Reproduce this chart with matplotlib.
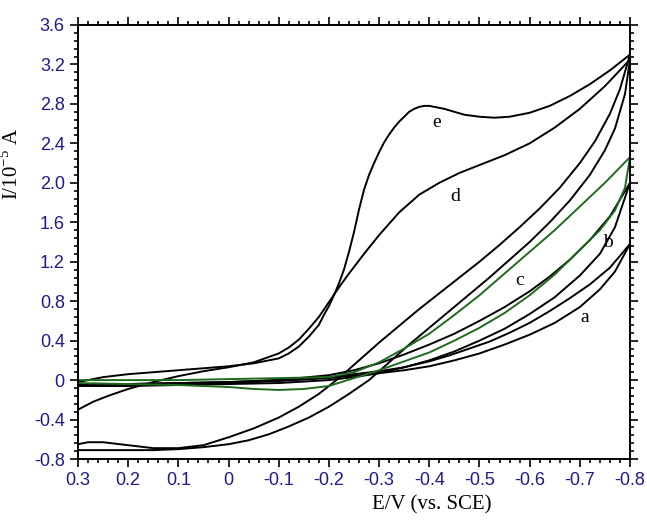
import matplotlib
matplotlib.use('Agg')
import matplotlib.pyplot as plt
from matplotlib.ticker import MultipleLocator

# curve e (black)
e_fwd_E = [0.30, 0.25, 0.20, 0.15, 0.10, 0.05, 0.00, -0.05, -0.10, -0.12, -0.14, -0.16, -0.18, -0.19, -0.20,
           -0.21, -0.22, -0.23, -0.24, -0.25, -0.26, -0.27, -0.28, -0.29, -0.30, -0.31, -0.32, -0.33, -0.34,
           -0.35, -0.36, -0.37, -0.38, -0.39, -0.40, -0.41, -0.43, -0.45, -0.47, -0.50, -0.53, -0.56, -0.60,
           -0.64, -0.68, -0.72, -0.76, -0.80]
e_fwd_I = [-0.02, 0.03, 0.06, 0.08, 0.10, 0.12, 0.14, 0.17, 0.22, 0.27, 0.34, 0.44, 0.56, 0.66, 0.75,
           0.86, 0.98, 1.12, 1.30, 1.50, 1.73, 1.93, 2.08, 2.20, 2.31, 2.41, 2.49, 2.56, 2.62,
           2.67, 2.72, 2.75, 2.77, 2.78, 2.78, 2.77, 2.75, 2.72, 2.69, 2.67, 2.66, 2.67, 2.71,
           2.78, 2.88, 3.00, 3.14, 3.30]
e_rev_E = [-0.80, -0.78, -0.76, -0.73, -0.70, -0.66, -0.62, -0.58, -0.54, -0.50, -0.46, -0.42, -0.38, -0.34,
           -0.30, -0.26, -0.22, -0.18, -0.14, -0.10, -0.05, 0.00, 0.05, 0.10, 0.15, 0.20, 0.25, 0.28, 0.30]
e_rev_I = [3.30, 2.95, 2.70, 2.42, 2.20, 1.95, 1.74, 1.55, 1.37, 1.20, 1.04, 0.88, 0.72, 0.55,
           0.38, 0.20, 0.02, -0.14, -0.27, -0.38, -0.49, -0.58, -0.66, -0.69, -0.69, -0.66, -0.63, -0.63, -0.65]

# curve d (black)
d_fwd_E = [0.30, 0.27, 0.24, 0.20, 0.15, 0.10, 0.05, 0.00, -0.05, -0.10, -0.12, -0.14, -0.16, -0.18, -0.20,
           -0.22, -0.24, -0.27, -0.30, -0.34, -0.38, -0.42, -0.46, -0.50, -0.55, -0.60, -0.65, -0.70, -0.75,
           -0.80]
d_fwd_I = [-0.30, -0.22, -0.16, -0.09, -0.02, 0.04, 0.09, 0.13, 0.18, 0.27, 0.33, 0.41, 0.52, 0.64, 0.79,
           0.94, 1.08, 1.28, 1.47, 1.70, 1.88, 2.00, 2.10, 2.18, 2.28, 2.40, 2.56, 2.75, 2.98,
           3.25]
d_rev_E = [-0.80, -0.79, -0.77, -0.75, -0.72, -0.68, -0.64, -0.60, -0.56, -0.52, -0.48, -0.44, -0.40, -0.36,
           -0.32, -0.28, -0.24, -0.20, -0.16, -0.12, -0.08, -0.04, 0.00, 0.05, 0.10, 0.15, 0.20, 0.25, 0.30]
d_rev_I = [3.25, 2.90, 2.55, 2.33, 2.08, 1.82, 1.60, 1.40, 1.22, 1.04, 0.87, 0.70, 0.53, 0.36,
           0.18, 0.00, -0.14, -0.27, -0.38, -0.47, -0.55, -0.61, -0.65, -0.68, -0.70, -0.71, -0.71, -0.71, -0.71]

# curve c (green)
c_fwd_E = [0.30, 0.20, 0.10, 0.00, -0.05, -0.10, -0.15, -0.20, -0.25, -0.30, -0.35, -0.40, -0.45, -0.50,
           -0.55, -0.60, -0.65, -0.70, -0.74, -0.77, -0.79, -0.80]
c_fwd_I = [-0.03, -0.04, -0.05, -0.07, -0.09, -0.10, -0.09, -0.06, 0.02, 0.10, 0.19, 0.28, 0.40, 0.53,
           0.68, 0.86, 1.07, 1.32, 1.52, 1.72, 1.95, 2.26]
c_rev_E = [-0.80, -0.75, -0.70, -0.65, -0.60, -0.55, -0.50, -0.45, -0.40, -0.35, -0.30, -0.25, -0.20, -0.10,
           0.00, 0.10, 0.20, 0.30]
c_rev_I = [2.26, 2.00, 1.76, 1.52, 1.30, 1.08, 0.86, 0.66, 0.47, 0.32, 0.18, 0.08, 0.03, 0.02,
           0.01, 0.00, 0.00, 0.00]

# curve b (black)
b_fwd_E = [0.30, 0.20, 0.10, 0.00, -0.10, -0.20, -0.25, -0.30, -0.35, -0.40, -0.45, -0.50, -0.55, -0.60,
           -0.65, -0.70, -0.74, -0.77, -0.80]
b_fwd_I = [-0.06, -0.06, -0.05, -0.04, -0.03, 0.00, 0.03, 0.07, 0.13, 0.20, 0.29, 0.40, 0.52, 0.67,
           0.84, 1.06, 1.28, 1.55, 2.00]
b_rev_E = [-0.80, -0.76, -0.72, -0.68, -0.64, -0.60, -0.55, -0.50, -0.45, -0.40, -0.35, -0.30, -0.25, -0.20,
           -0.10, 0.00, 0.10, 0.20, 0.30]
b_rev_I = [2.00, 1.66, 1.42, 1.22, 1.05, 0.90, 0.74, 0.60, 0.47, 0.36, 0.26, 0.17, 0.10, 0.05,
           0.00, -0.02, -0.03, -0.04, -0.05]

# curve a (black)
a_fwd_E = [0.30, 0.20, 0.10, 0.00, -0.10, -0.20, -0.30, -0.35, -0.40, -0.45, -0.50, -0.55, -0.60, -0.65,
           -0.70, -0.74, -0.77, -0.80]
a_fwd_I = [-0.05, -0.05, -0.04, -0.03, -0.01, 0.02, 0.07, 0.10, 0.14, 0.20, 0.27, 0.36, 0.46, 0.58,
           0.74, 0.92, 1.10, 1.38]
a_rev_E = [-0.80, -0.76, -0.72, -0.68, -0.64, -0.60, -0.56, -0.52, -0.48, -0.44, -0.40, -0.35, -0.30, -0.20,
           -0.10, 0.00, 0.10, 0.20, 0.30]
a_rev_I = [1.38, 1.14, 0.97, 0.83, 0.70, 0.58, 0.48, 0.39, 0.32, 0.25, 0.19, 0.13, 0.09, 0.03,
           0.00, -0.02, -0.03, -0.04, -0.04]

curve_names = ['a', 'b', 'c', 'd', 'e']
label_E = [-0.710, -0.756, -0.580, -0.451, -0.415]
label_I = [0.63, 1.39, 1.01, 1.86, 2.61]

x_ticks = [0.3, 0.2, 0.1, 0, -0.1, -0.2, -0.3, -0.4, -0.5, -0.6, -0.7, -0.8]
x_ticklabels = ['0.3', '0.2', '0.1', '0', '-0.1', '-0.2', '-0.3', '-0.4', '-0.5', '-0.6', '-0.7', '-0.8']
y_ticks = [-0.8, -0.4, 0, 0.4, 0.8, 1.2, 1.6, 2.0, 2.4, 2.8, 3.2, 3.6]
y_ticklabels = ['-0.8', '-0.4', '0', '0.4', '0.8', '1.2', '1.6', '2.0', '2.4', '2.8', '3.2', '3.6']

tick_color = '#1c1c8a'
green = '#1e6b1e'


def main():
    fig = plt.figure(figsize=(6.47, 5.2), dpi=100)
    ax = fig.add_axes([78 / 647, 1 - 459 / 520, 552 / 647, 434 / 520])

    lw = 1.4
    for E, I in [(e_fwd_E, e_fwd_I), (e_rev_E, e_rev_I), (d_fwd_E, d_fwd_I), (d_rev_E, d_rev_I),
                 (b_fwd_E, b_fwd_I), (b_rev_E, b_rev_I), (a_fwd_E, a_fwd_I), (a_rev_E, a_rev_I)]:
        ax.plot(E, I, color='black', lw=lw)
    ax.plot(c_fwd_E, c_fwd_I, color=green, lw=lw)
    ax.plot(c_rev_E, c_rev_I, color=green, lw=lw)

    for name, E, I in zip(curve_names, label_E, label_I):
        ax.text(E, I, name, family='Liberation Serif', fontsize=14, ha='center', va='center')

    ax.set_xlim(0.3, -0.8)
    ax.set_ylim(-0.8, 3.6)
    ax.set_xticks(x_ticks)
    ax.set_xticklabels(x_ticklabels)
    ax.set_yticks(y_ticks)
    ax.set_yticklabels(y_ticklabels)
    ax.xaxis.set_minor_locator(MultipleLocator(0.02))
    ax.yaxis.set_minor_locator(MultipleLocator(0.08))
    ax.tick_params(which='both', direction='out', top=True, right=True, width=1.2)
    ax.tick_params(which='major', length=6, labelsize=13, labelcolor=tick_color)
    ax.tick_params(which='minor', length=3)
    for lab in ax.get_xticklabels() + ax.get_yticklabels():
        lab.set_family('Liberation Sans')
    for s in ax.spines.values():
        s.set_linewidth(1.4)

    ax.set_xlabel('E/V (vs. SCE)', family='Liberation Serif', fontsize=15)
    ax.xaxis.set_label_coords((432 - 78) / 552, -36 / 434)
    ax.set_ylabel(r'I/10$^{\mathregular{-5}}$ A', family='Liberation Serif', fontsize=15)
    ax.yaxis.set_label_coords((23 - 78) / 552, (459 - 164) / 434)

    fig.savefig('out.png', dpi=100)


if __name__ == '__main__':
    main()
